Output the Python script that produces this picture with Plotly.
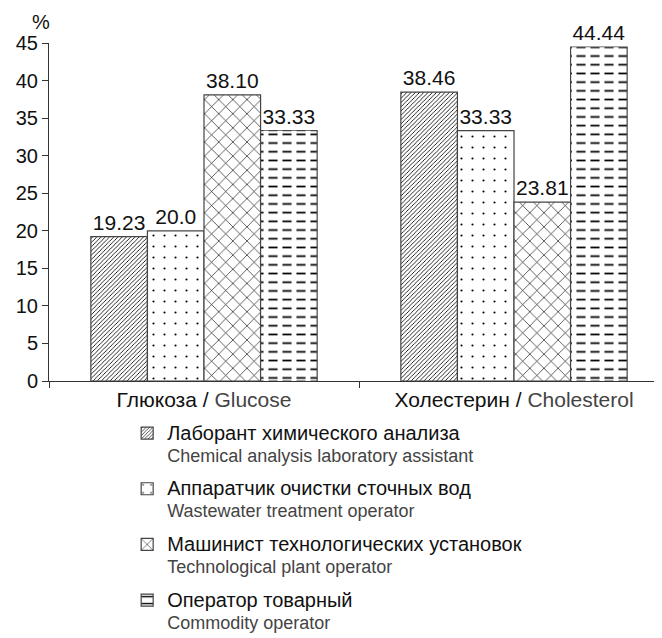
import plotly.graph_objects as go

categories = ["Глюкоза / <span style='color:#444'>Glucose</span>",
              "Холестерин / <span style='color:#444'>Cholesterol</span>"]
series_ru = ["Лаборант химического анализа",
             "Аппаратчик очистки сточных вод",
             "Машинист технологических установок",
             "Оператор товарный"]
series_en = ["Chemical analysis laboratory assistant",
             "Wastewater treatment operator",
             "Technological plant operator",
             "Commodity operator"]
values = [[19.23, 38.46], [20.0, 33.33], [38.10, 23.81], [33.33, 44.44]]
labels = [["19.23", "38.46"], ["20.0", "33.33"], ["38.10", "23.81"], ["33.33", "44.44"]]
y_ticks = [0, 5, 10, 15, 20, 25, 30, 35, 40, 45]

patterns = [
    dict(shape="/", size=3, solidity=0.28),
    dict(shape=".", size=11, solidity=0.03),
    dict(shape="x", size=10, solidity=0.12),
    dict(shape="-", size=8.7, solidity=0.2),
]

BARGAP = 0.27
bar_w = (1 - BARGAP) / 4
FONT = "Liberation Sans, Arial"

fig = go.Figure()
for i in range(4):
    p = patterns[i]
    fig.add_trace(go.Bar(
        x=categories, y=values[i],
        name=(f"<span style='font-size:20px'>{series_ru[i]}</span><br>"
              f"<span style='font-size:18px;color:#444'>{series_en[i]}</span>"),
        legendgroup=f"g{i}",
        text=labels[i], textposition="outside", cliponaxis=False, textangle=0,
        constraintext="none",
        textfont=dict(size=21, color="#111", family=FONT),
        marker=dict(color="white", line=dict(color="#444", width=1.2),
                    pattern=dict(shape=p["shape"], size=p["size"], solidity=p["solidity"],
                                 fgcolor="black", bgcolor="white", fillmode="replace")),
    ))

# white vertical bands to break the horizontal lines of the last series into dashes
fig.add_trace(go.Bar(
    x=categories, y=values[3], width=bar_w - 0.008, offset=bar_w + 0.004,
    showlegend=False, hoverinfo="skip",
    marker=dict(color="rgba(0,0,0,0)", line=dict(width=0),
                pattern=dict(shape="|", size=14, solidity=0.35, fgcolor="white",
                             bgcolor="rgba(0,0,0,0)", fillmode="replace")),
))

fig.update_layout(
    width=662, height=638,
    margin=dict(l=41, r=8, t=35, b=265, autoexpand=False),
    barmode="group", bargap=BARGAP, bargroupgap=0,
    plot_bgcolor="white", paper_bgcolor="white",
    font=dict(family=FONT, size=20, color="#111"),
    showlegend=True,
    legend=dict(xref="container", yref="container", x=0.18, y=0.3613,
                xanchor="left", yanchor="top", font=dict(size=17, color="#111"),
                tracegroupgap=8.5, valign="top", bgcolor="rgba(0,0,0,0)"),
    xaxis=dict(range=[-0.5, -0.5 + 613 / 310], showline=True, linecolor="#333", linewidth=1,
               ticks="outside", tickson="boundaries", ticklen=6, tickcolor="#333",
               showgrid=False, tickangle=0, tickfont=dict(size=21, color="#111")),
    yaxis=dict(range=[0, 45], tickvals=y_ticks, showline=True, linecolor="#333", linewidth=1,
               ticks="outside", ticklen=6, tickcolor="#333", showgrid=False, zeroline=False,
               tickfont=dict(size=20, color="#111")),
    annotations=[dict(text="%", xref="paper", yref="paper", x=0, y=1, xshift=-8, yshift=21,
                      xanchor="center", yanchor="middle", showarrow=False,
                      font=dict(size=20, color="#111"))],
)

fig.write_html("out.html")
